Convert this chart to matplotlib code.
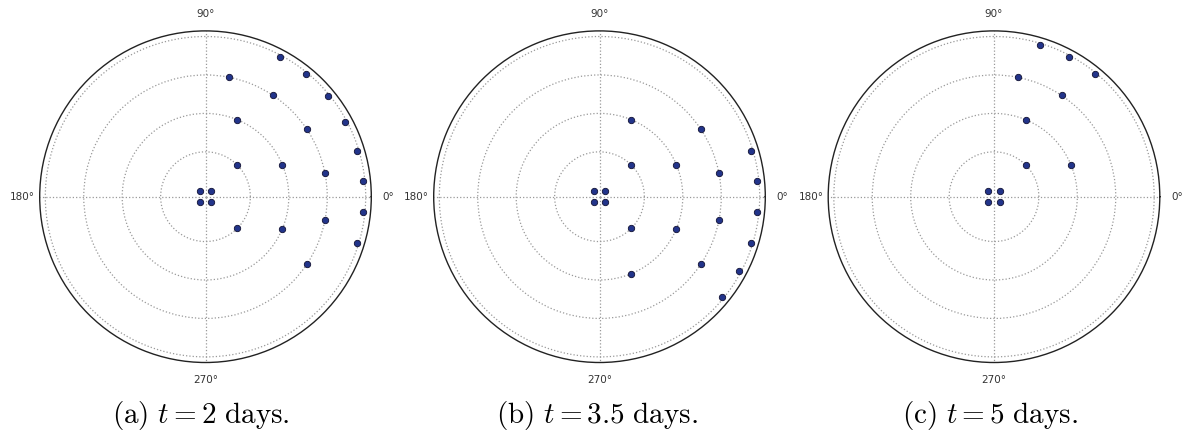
#!/usr/bin/env python3
"""Polar snapshots of active points at three times."""

import numpy as np
import matplotlib
matplotlib.use('Agg')
import matplotlib.pyplot as plt

plt.rcParams['mathtext.fontset'] = 'cm'

# ring radii (normalised to outermost grid circle)
ring_r = [0.05, 0.28, 0.52, 0.76, 0.99]
grid_r = [0.28, 0.52, 0.76, 1.0]

# point angles (degrees) per ring for each snapshot
center_ang = [45, 135, 225, 315]

snap_a = {
    1: [45, -45],
    2: [22.5, 67.5, -22.5],
    3: [11.25, 33.75, 56.25, 78.75, -11.25, -33.75],
    4: [5.625, 16.875, 28.125, 39.375, 50.625, 61.875, -5.625, -16.875],
}
snap_b = {
    1: [45, -45],
    2: [22.5, 67.5, -22.5, -67.5],
    3: [11.25, 33.75, -11.25, -33.75],
    4: [5.625, 16.875, -5.625, -16.875, -28.125, -39.375],
}
snap_c = {
    1: [45],
    2: [22.5, 67.5],
    3: [56.25, 78.75],
    4: [50.625, 61.875, 73.125],
}

snapshots = [snap_a, snap_b, snap_c]
captions = [r'$\mathrm{(a)}\ t = 2\ \mathrm{days.}$',
            r'$\mathrm{(b)}\ t = 3.5\ \mathrm{days.}$',
            r'$\mathrm{(c)}\ t = 5\ \mathrm{days.}$']
caption_x = [201, 597, 990]

W, H = 1190, 433
fig = plt.figure(figsize=(W / 100, H / 100), dpi=100)

centers_x = [205.5, 599.5, 994.0]
center_y = 196.7
rad_px = 165.8
rmax = 1.035

for i, snap in enumerate(snapshots):
    cx = centers_x[i]
    ax = fig.add_axes([(cx - rad_px) / W, (H - center_y - rad_px) / H,
                       2 * rad_px / W, 2 * rad_px / H], projection='polar')

    th = list(center_ang)
    rr = [ring_r[0]] * len(center_ang)
    for ring, angs in snap.items():
        th += angs
        rr += [ring_r[ring]] * len(angs)
    ax.plot(np.deg2rad(th), rr, 'o', ms=4.6, color='#22348a',
            markeredgecolor='#111133', markeredgewidth=0.6, zorder=3)

    ax.set_ylim(0, rmax)
    ax.set_rgrids(grid_r, labels=[''] * len(grid_r))
    ax.set_thetagrids([0, 90, 180, 270], labels=['0°', '90°', '180°', '270°'])
    ax.tick_params(axis='x', labelsize=7.5, colors='#333333', pad=2)
    ax.grid(True, color='#999999', linestyle=':', linewidth=0.9)
    ax.spines['polar'].set_color('#222222')
    ax.spines['polar'].set_linewidth(1.0)

    fig.text(caption_x[i] / W, 1 - 415 / H, captions[i], ha='center',
             va='center', fontsize=21)

plt.savefig('out.png', dpi=100)
